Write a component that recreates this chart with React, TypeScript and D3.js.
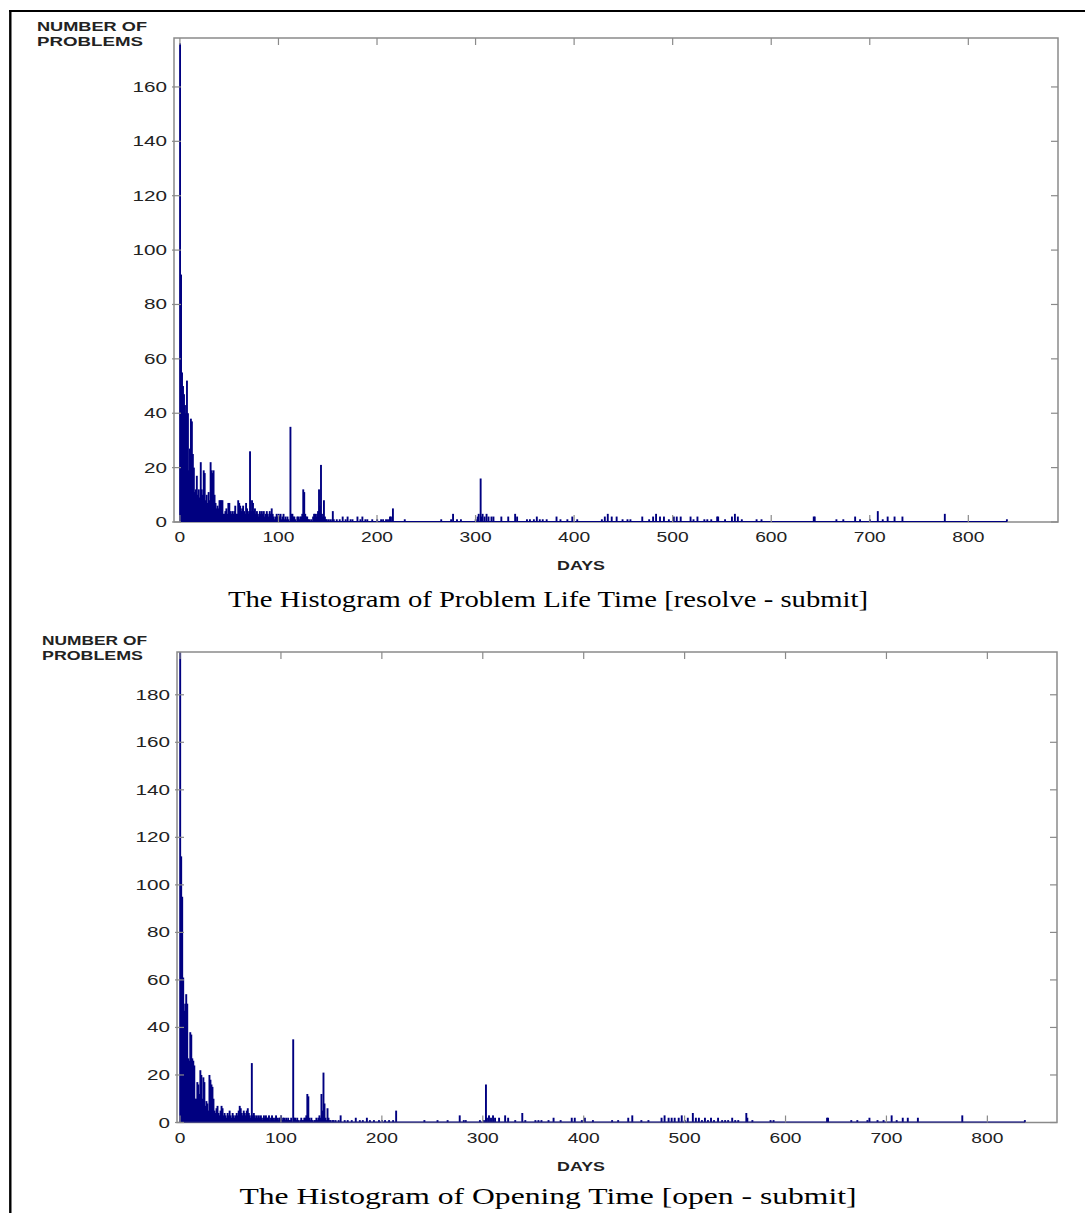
import React from "react";
import * as d3 from "d3";

// histogram of problem life time [resolve - submit], counts for days 0..159
const lifeHead = [
  176, 91, 55, 50, 47, 43, 40, 52, 40, 19, 27, 38, 37, 25, 20, 11, 12, 17, 10, 12,
  9, 22, 12, 10, 19, 18, 8, 10, 7, 11, 8, 22, 19, 18, 19, 10, 7, 5, 6, 5,
  8, 8, 8, 8, 3, 3, 4, 5, 3, 7, 7, 4, 3, 4, 3, 4, 6, 3, 3, 8,
  7, 6, 4, 5, 6, 4, 3, 7, 5, 3, 4, 26, 4, 8, 7, 4, 5, 3, 4, 3,
  2, 4, 3, 4, 3, 4, 2, 3, 4, 3, 2, 4, 3, 5, 3, 2, 1, 2, 3, 2,
  3, 2, 3, 1, 2, 3, 1, 2, 1, 2, 1, 0, 35, 3, 3, 2, 2, 1, 0, 2,
  2, 1, 2, 2, 3, 12, 11, 3, 2, 2, 1, 1, 0, 1, 0, 2, 3, 3, 2, 3,
  4, 12, 6, 21, 3, 2, 8, 2, 1, 1, 0, 1, 0, 1, 0, 4, 1, 0, 0, 1,
];
const lifeTailDays = [
  162, 165, 168, 170, 173, 175, 180, 183, 185, 188, 190, 195, 200, 204, 206, 209, 211, 213, 214, 216,
  228, 265, 275, 277, 281, 285, 300, 302, 303, 305, 306, 307, 309, 311, 313, 316, 318, 326, 333, 340,
  342, 352, 355, 359, 362, 365, 368, 372, 382, 386, 393, 398, 403, 428, 431, 434, 438, 443, 449, 454,
  457, 469, 476, 480, 483, 487, 491, 496, 501, 504, 508, 518, 521, 525, 532, 535, 539, 545, 546, 553,
  560, 563, 566, 570, 585, 590, 643, 644, 666, 673, 685, 690, 700, 708, 713, 718, 725, 733, 776, 839,
];
const lifeTailCounts = [
  1, 2, 1, 2, 1, 1, 2, 1, 2, 1, 1, 1, 1, 1, 1, 1, 1, 2, 2, 5,
  1, 1, 1, 3, 1, 1, 1, 2, 3, 16, 2, 3, 2, 3, 2, 2, 2, 2, 2, 3,
  2, 1, 1, 1, 2, 1, 1, 1, 2, 1, 1, 2, 1, 1, 2, 3, 2, 2, 1, 1,
  1, 2, 1, 2, 3, 2, 2, 1, 2, 2, 2, 2, 1, 2, 1, 1, 1, 2, 2, 1,
  2, 3, 2, 1, 1, 1, 2, 2, 1, 1, 2, 1, 1, 4, 1, 2, 2, 2, 3, 1,
];

// histogram of opening time [open - submit], counts for days 0..159
const openHead = [
  198, 112, 95, 61, 47, 50, 54, 50, 27, 26, 38, 37, 27, 26, 24, 10, 10, 17, 16, 12,
  22, 20, 10, 19, 17, 7, 9, 8, 5, 20, 18, 16, 15, 10, 5, 4, 6, 7, 4, 3,
  5, 7, 6, 3, 4, 3, 2, 4, 3, 5, 3, 2, 4, 3, 2, 3, 4, 3, 5, 7,
  6, 4, 3, 5, 4, 3, 5, 6, 4, 3, 2, 25, 3, 4, 3, 2, 3, 2, 3, 2,
  3, 2, 1, 3, 2, 3, 2, 2, 3, 1, 2, 3, 2, 1, 2, 3, 2, 1, 2, 2,
  3, 1, 2, 2, 1, 2, 1, 2, 1, 1, 2, 0, 35, 2, 2, 1, 2, 1, 0, 1,
  2, 1, 1, 2, 2, 3, 12, 11, 2, 1, 2, 1, 0, 1, 1, 2, 1, 2, 3, 2,
  12, 5, 21, 8, 2, 1, 6, 2, 1, 1, 0, 1, 1, 0, 1, 0, 0, 1, 0, 3,
];
const openTailDays = [
  163, 166, 170, 174, 178, 181, 185, 188, 192, 197, 200, 203, 207, 211, 214, 242, 255, 265, 277, 281,
  283, 297, 301, 303, 304, 306, 308, 310, 312, 316, 322, 325, 332, 339, 342, 352, 355, 358, 365, 370,
  377, 388, 391, 398, 401, 409, 428, 434, 444, 448, 457, 464, 477, 480, 484, 487, 490, 494, 497, 500,
  503, 508, 511, 514, 517, 520, 523, 526, 529, 533, 537, 540, 543, 547, 550, 553, 561, 562, 567, 585,
  588, 641, 642, 665, 671, 681, 683, 691, 697, 705, 710, 716, 721, 731, 775, 837,
];
const openTailCounts = [
  1, 1, 1, 2, 1, 1, 2, 1, 1, 1, 1, 1, 1, 1, 5, 1, 1, 1, 3, 1,
  1, 1, 1, 16, 2, 3, 2, 3, 2, 2, 3, 2, 1, 4, 1, 1, 1, 1, 1, 2,
  1, 2, 2, 1, 2, 1, 1, 1, 2, 3, 1, 1, 2, 3, 2, 2, 2, 2, 3, 1,
  2, 4, 2, 2, 1, 2, 1, 2, 1, 2, 1, 1, 1, 2, 1, 1, 4, 2, 1, 1,
  1, 2, 2, 1, 1, 1, 2, 1, 1, 3, 1, 2, 2, 2, 3, 1,
];

const xTicks = [0, 100, 200, 300, 400, 500, 600, 700, 800];
const lifeYTicks = [0, 20, 40, 60, 80, 100, 120, 140, 160];
const openYTicks = [0, 20, 40, 60, 80, 100, 120, 140, 160, 180];
const yTitle = ["NUMBER OF", "PROBLEMS"];
const xTitle = "DAYS";
const lifeCaption = "The Histogram of Problem Life Time [resolve - submit]";
const openCaption = "The Histogram of Opening Time [open - submit]";

type Bin = { day: number; count: number };

const toBins = (head: number[], tailDays: number[], tailCounts: number[]): Bin[] =>
  head.map((c, i) => ({ day: i, count: c }))
    .concat(tailDays.map((d, i) => ({ day: d, count: tailCounts[i] })));

const BAR = "#000080";
const AXIS = "#8a8a8a";
const INK = "#222";
const SANS = "'Liberation Sans', Arial, sans-serif";

function Histogram(props: {
  bins: Bin[];
  yTicks: number[];
  xDomain: [number, number];
  yMax: number;
  box: { left: number; right: number; top: number; bottom: number };
  titleX: number;
  titleW: [number, number];
  caption: string;
  captionY: number;
  captionW: number;
}) {
  const { bins, yTicks, xDomain, yMax, box, caption } = props;
  const x = d3.scaleLinear().domain(xDomain).range([box.left, box.right]);
  const y = d3.scaleLinear().domain([0, yMax]).range([box.bottom, box.top]);
  const tick = 7;
  const maxDay = d3.max(bins, (b) => b.day) as number;

  return (
    <g>
      {/* bars */}
      {bins.filter((b) => b.count > 0).map((b) => {
        const x0 = x(b.day - 0.5) - 0.3;
        const w = x(b.day + 0.5) - x(b.day - 0.5) + 0.9;
        const top = y(Math.min(b.count, yMax));
        return (
          <rect key={b.day} x={x0} y={top} width={w} height={box.bottom - top} fill={BAR} />
        );
      })}

      {/* axes box */}
      <rect x={box.left} y={box.top} width={box.right - box.left} height={box.bottom - box.top}
        fill="none" stroke={AXIS} strokeWidth={1.5} />
      <line x1={x(-0.5)} x2={x(maxDay + 0.5)} y1={box.bottom - 0.5} y2={box.bottom - 0.5}
        stroke={BAR} strokeWidth={1.2} />

      {/* x ticks */}
      {xTicks.map((t) => (
        <g key={"x" + t}>
          <line x1={x(t)} x2={x(t)} y1={box.bottom} y2={box.bottom - tick} stroke={AXIS} strokeWidth={1.2} />
          <line x1={x(t)} x2={x(t)} y1={box.top} y2={box.top + tick} stroke={AXIS} strokeWidth={1.2} />
          <text x={x(t)} y={box.bottom + 20} textAnchor="middle" fontFamily={SANS} fontSize={14}
            fill={INK} textLength={String(t).length * 10.7} lengthAdjust="spacingAndGlyphs">{t}</text>
        </g>
      ))}

      {/* y ticks */}
      {yTicks.map((t) => (
        <g key={"y" + t}>
          <line x1={box.left - 2} x2={box.left + tick} y1={y(t)} y2={y(t)} stroke={AXIS} strokeWidth={1.2} />
          <line x1={box.right} x2={box.right - tick} y1={y(t)} y2={y(t)} stroke={AXIS} strokeWidth={1.2} />
          <text x={box.left - 7} y={y(t) + 5} textAnchor="end" fontFamily={SANS} fontSize={14}
            fill={INK} textLength={String(t).length * 11.5} lengthAdjust="spacingAndGlyphs">{t}</text>
        </g>
      ))}

      {/* axis titles */}
      {yTitle.map((s, i) => (
        <text key={s} x={props.titleX} y={box.top - 7 + i * 15} fontFamily={SANS} fontWeight="bold"
          fontSize={12.5} fill={INK} textLength={props.titleW[i]} lengthAdjust="spacingAndGlyphs">{s}</text>
      ))}
      <text x={581} y={box.bottom + 48} textAnchor="middle" fontFamily={SANS} fontWeight="bold"
        fontSize={13} fill={INK} textLength={48} lengthAdjust="spacingAndGlyphs">{xTitle}</text>

      {/* caption */}
      <text x={548} y={props.captionY} textAnchor="middle" fontFamily="'Liberation Serif', 'Times New Roman', serif"
        fontSize={23} fill="#000" textLength={props.captionW} lengthAdjust="spacingAndGlyphs">{caption}</text>
    </g>
  );
}

export default function App() {
  const lifeBins = toBins(lifeHead, lifeTailDays, lifeTailCounts);
  const openBins = toBins(openHead, openTailDays, openTailCounts);
  return (
    <svg width={1085} height={1213} style={{ position: "absolute", left: 0, top: 0, background: "#fff" }}>
      <rect x={0} y={0} width={1085} height={1213} fill="#fff" />
      <line x1={9} x2={1085} y1={11} y2={11} stroke="#000" strokeWidth={2.2} />
      <line x1={10.3} x2={10.3} y1={10} y2={1213} stroke="#000" strokeWidth={2.4} />
      <Histogram bins={lifeBins} yTicks={lifeYTicks} xDomain={[-6, 891]} yMax={178}
        box={{ left: 174, right: 1058, top: 38, bottom: 522 }}
        titleX={37} titleW={[110, 106]} caption={lifeCaption} captionY={607} captionW={640} />
      <Histogram bins={openBins} yTicks={openYTicks} xDomain={[-3, 869]} yMax={198}
        box={{ left: 177, right: 1057, top: 652, bottom: 1122.5 }}
        titleX={42} titleW={[105, 101]} caption={openCaption} captionY={1204} captionW={617} />
    </svg>
  );
}
